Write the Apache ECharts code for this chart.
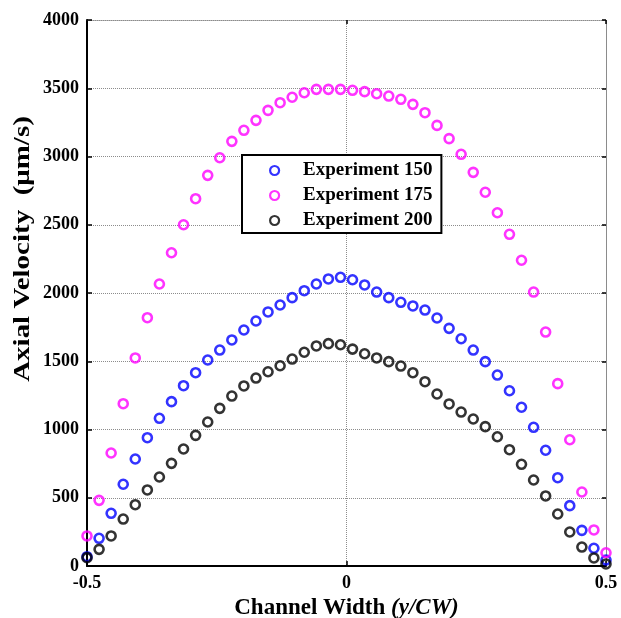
<!DOCTYPE html>
<html>
<head>
<meta charset="utf-8">
<style>
  html, body { margin: 0; padding: 0; background: #fff; }
  #chart { width: 621px; height: 618px; }
</style>
<script src="https://cdn.jsdelivr.net/npm/echarts@6/dist/echarts.min.js"></script>
</head>
<body>
<div id="chart"></div>
<script>
// Normalised channel position y/CW for each measurement station
const channelPos = [
  -0.5, -0.4767, -0.4535, -0.4302, -0.4070, -0.3837, -0.3605, -0.3372, -0.3140, -0.2907,
  -0.2674, -0.2442, -0.2209, -0.1977, -0.1744, -0.1512, -0.1279, -0.1047, -0.0814, -0.0581,
  -0.0349, -0.0116, 0.0116, 0.0349, 0.0581, 0.0814, 0.1047, 0.1279, 0.1512, 0.1744,
  0.1977, 0.2209, 0.2442, 0.2674, 0.2907, 0.3140, 0.3372, 0.3605, 0.3837, 0.4070,
  0.4302, 0.4535, 0.4767, 0.5
];

// Axial velocity (µm/s) per experiment
const exp150 = [
  68, 203, 386, 599, 784, 940, 1082, 1204, 1321, 1416,
  1509, 1582, 1656, 1729, 1795, 1861, 1912, 1966, 2017, 2066,
  2103, 2115, 2097, 2059, 2007, 1966, 1932, 1905, 1875, 1817,
  1741, 1665, 1582, 1497, 1399, 1284, 1163, 1016, 848, 647,
  442, 261, 130, 44
];
const exp175 = [
  220, 481, 828, 1189, 1524, 1819, 2066, 2295, 2500, 2691,
  2862, 2991, 3111, 3192, 3265, 3338, 3394, 3434, 3467, 3492,
  3492, 3492, 3485, 3475, 3460, 3443, 3419, 3382, 3321, 3228,
  3131, 3016, 2884, 2738, 2588, 2430, 2240, 2007, 1714, 1336,
  925, 542, 264, 97
];
const exp200 = [
  61, 122, 220, 344, 449, 557, 652, 752, 857, 957,
  1055, 1155, 1245, 1319, 1377, 1423, 1467, 1516, 1566, 1612,
  1629, 1621, 1589, 1555, 1524, 1497, 1465, 1416, 1350, 1260,
  1187, 1128, 1077, 1021, 947, 852, 745, 630, 513, 381,
  249, 139, 59, 15
];

const seriesNames = ['Experiment 150', 'Experiment 175', 'Experiment 200'];
const seriesColors = ['#0000ff', '#ff00ff', '#000000'];
const seriesValues = [exp150, exp175, exp200];

const xTicks = { '-0.5': '-0.5', '0': '0', '0.5': '0.5' };

const FONT = '"Liberation Serif", "Times New Roman", serif';
const gridColor = '#8c8c8c';

const chart = echarts.init(document.getElementById('chart'), null, { renderer: 'canvas' });

const series = seriesNames.map((name, k) => ({
  name: name,
  type: 'scatter',
  xAxisIndex: 0,
  yAxisIndex: 0,
  symbol: 'circle',
  symbolSize: 9,
  itemStyle: { color: 'rgba(0,0,0,0)', borderColor: seriesColors[k], borderWidth: 2.6 },
  emphasis: { disabled: true },
  data: channelPos.map((x, i) => [x, seriesValues[k][i]])
}));

const option = {
  animation: false,
  backgroundColor: '#ffffff',
  grid: { left: 87, right: 15, top: 20, bottom: 52, containLabel: false, outerBoundsMode: 'none' },
  legend: {
    orient: 'vertical',
    left: 242,
    top: 155,
    padding: [6, 9, 3, 27],
    itemWidth: 9,
    itemHeight: 9,
    itemGap: 6,
    backgroundColor: '#ffffff',
    borderColor: '#000000',
    borderWidth: 2,
    textStyle: {
      fontFamily: FONT, fontWeight: 'bold', fontSize: 19, color: '#000',
      padding: [0, 0, 0, 19]
    },
    data: seriesNames.map((name, k) => ({
      name: name,
      icon: 'circle',
      itemStyle: { color: 'rgba(0,0,0,0)', borderColor: seriesColors[k], borderWidth: 2.2 }
    }))
  },
  xAxis: [
    {
      type: 'value',
      min: -0.5,
      max: 0.5,
      interval: 0.5,
      position: 'bottom',
      name: '{b|Channel Width }{i|(y/CW)}',
      nameLocation: 'middle',
      nameGap: 27,
      nameTextStyle: {
        rich: {
          b: { fontFamily: FONT, fontWeight: 'bold', fontSize: 23, color: '#000' },
          i: { fontFamily: FONT, fontWeight: 'bold', fontStyle: 'italic', fontSize: 23, color: '#000' }
        }
      },
      axisLine: { show: true, onZero: false, lineStyle: { color: '#000', width: 2 } },
      axisTick: { show: true, inside: true, length: 5, lineStyle: { color: '#000', width: 1.5 } },
      axisLabel: {
        margin: 8,
        fontFamily: FONT, fontWeight: 'bold', fontSize: 18, color: '#000',
        formatter: v => xTicks[String(v)] !== undefined ? xTicks[String(v)] : String(v)
      },
      splitLine: { show: true, lineStyle: { color: gridColor, width: 1, type: 'dotted' } }
    },
    {
      type: 'value',
      min: -0.5,
      max: 0.5,
      interval: 0.5,
      position: 'top',
      axisLine: { show: true, onZero: false, lineStyle: { color: gridColor, width: 1, type: 'dotted' } },
      axisTick: { show: true, inside: true, length: 4, lineStyle: { color: '#000', width: 1.5 } },
      axisLabel: { show: false },
      splitLine: { show: false }
    }
  ],
  yAxis: [
    {
      type: 'value',
      min: 0,
      max: 4000,
      interval: 500,
      position: 'left',
      axisLine: { show: true, onZero: false, lineStyle: { color: '#000', width: 2 } },
      axisTick: { show: true, inside: true, length: 5, lineStyle: { color: '#000', width: 1.5 } },
      axisLabel: {
        margin: 8, fontFamily: FONT, fontWeight: 'bold', fontSize: 18, color: '#000',
        formatter: v => String(v)
      },
      splitLine: { show: true, lineStyle: { color: gridColor, width: 1, type: 'dotted' } }
    },
    {
      type: 'value',
      min: 0,
      max: 4000,
      interval: 500,
      position: 'right',
      axisLine: { show: true, onZero: false, lineStyle: { color: gridColor, width: 1, type: 'dotted' } },
      axisTick: { show: true, inside: true, length: 4, lineStyle: { color: '#000', width: 1.5 } },
      axisLabel: { show: false },
      splitLine: { show: false }
    }
  ],
  graphic: [
    {
      // Vertical axis title, stretched along its baseline
      type: 'text',
      x: 23,
      y: 249,
      rotation: Math.PI / 2,
      scaleX: 1.26,
      scaleY: 1,
      silent: true,
      style: {
        text: 'Axial Velocity  (\u03bcm/s)',
        fontFamily: FONT,
        fontWeight: 'bold',
        fontSize: 23,
        fill: '#000',
        align: 'center',
        verticalAlign: 'middle'
      }
    }
  ],
  series: series
};

chart.setOption(option);
</script>
</body>
</html>
